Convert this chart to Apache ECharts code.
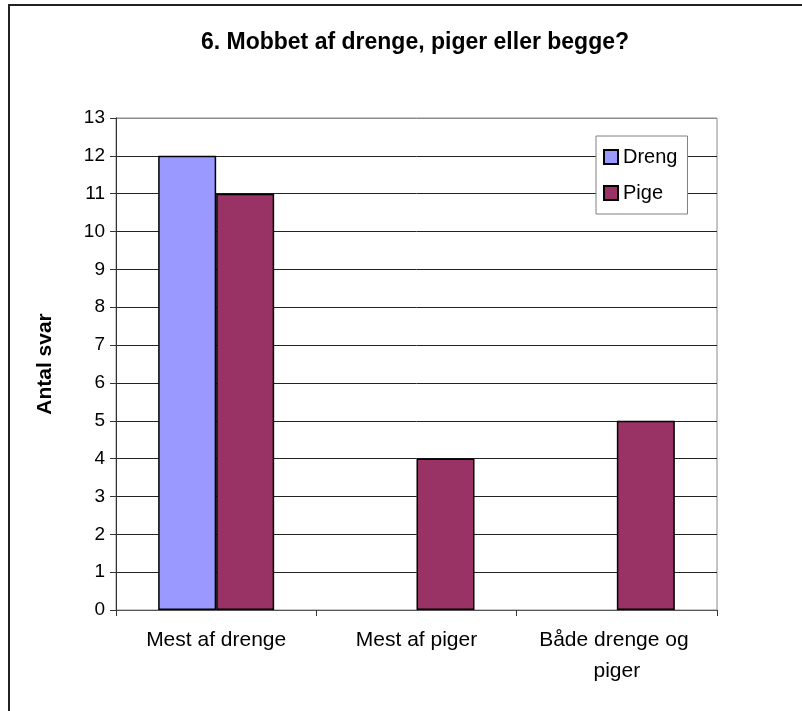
<!DOCTYPE html>
<html>
<head>
<meta charset="utf-8">
<script src="https://cdn.jsdelivr.net/npm/echarts@6/dist/echarts.min.js"></script>
<style>
  html, body { margin: 0; padding: 0; background: #fff; }
  #chart { width: 802px; height: 711px; }
</style>
</head>
<body>
<div id="chart"></div>
<script>
const categories = ['Mest af drenge', 'Mest af piger', 'Både drenge og piger'];
const drengValues = [12, 0, 0];
const pigeValues = [11, 4, 5];
const yTicks = { min: 0, max: 13, interval: 1 };

const font = '"Liberation Sans", Arial, sans-serif';

const chart = echarts.init(document.getElementById('chart'));

// 14 split lines (0..13); the top one is the gray plot border
const splitColors = [];
for (let i = yTicks.min; i <= yTicks.max; i++) {
  splitColors.push(i === yTicks.max ? '#8c8c8c' : '#222');
}

// Excel doesn't draw an outline for zero-height bars
function toItems(values) {
  return values.map(v => v === 0 ? { value: v, itemStyle: { borderWidth: 0 } } : v);
}

const option = {
  backgroundColor: '#fff',
  animation: false,
  title: {
    text: '6. Mobbet af drenge, piger eller begge?',
    left: 415,
    top: 31,
    padding: 0,
    textAlign: 'center',
    textStyle: { fontFamily: font, fontSize: 23, fontWeight: 'bold', color: '#000' }
  },
  graphic: [{
    type: 'rect',
    shape: { x: 9, y: 5, width: 900, height: 800 },
    style: { fill: 'none', stroke: '#222', lineWidth: 2 },
    silent: true
  }],
  legend: {
    orient: 'vertical',
    left: 596,
    top: 136,
    padding: [11, 10, 11, 7],
    itemGap: 16,
    itemWidth: 14,
    itemHeight: 14,
    icon: 'rect',
    backgroundColor: '#fff',
    borderColor: '#808080',
    borderWidth: 1,
    textStyle: { fontFamily: font, fontSize: 20, color: '#000', lineHeight: 20 },
    data: ['Dreng', 'Pige']
  },
  grid: {
    left: 116,
    top: 118,
    width: 601,
    height: 492,
    show: true,
    borderColor: '#8c8c8c',
    borderWidth: 1,
    containLabel: false
  },
  xAxis: {
    type: 'category',
    data: categories,
    axisLine: { show: true, lineStyle: { color: '#555', width: 1 } },
    axisTick: { show: true, length: 6, lineStyle: { color: '#333' } },
    axisLabel: {
      interval: 0,
      margin: 15,
      fontFamily: font,
      fontSize: 21,
      lineHeight: 31,
      color: '#000',
      width: 180,
      overflow: 'break'
    }
  },
  yAxis: {
    type: 'value',
    min: yTicks.min,
    max: yTicks.max,
    interval: yTicks.interval,
    name: 'Antal svar',
    nameLocation: 'middle',
    nameGap: 60,
    nameRotate: 90,
    nameTextStyle: { fontFamily: font, fontSize: 21, fontWeight: 'bold', color: '#000' },
    axisLine: { show: true, lineStyle: { color: '#333', width: 1 } },
    axisTick: { show: true, length: 6, lineStyle: { color: '#333' } },
    axisLabel: { margin: 11, fontFamily: font, fontSize: 19, color: '#000' },
    splitLine: { show: true, lineStyle: { color: splitColors, width: 1 } }
  },
  series: [
    {
      name: 'Dreng',
      type: 'bar',
      data: toItems(drengValues),
      barWidth: 58,
      barGap: '0%',
      itemStyle: { color: '#9999ff', borderColor: '#000', borderWidth: 1.5 }
    },
    {
      name: 'Pige',
      type: 'bar',
      data: toItems(pigeValues),
      barWidth: 58,
      itemStyle: { color: '#993366', borderColor: '#000', borderWidth: 1.5 }
    }
  ]
};

chart.setOption(option);
</script>
</body>
</html>
